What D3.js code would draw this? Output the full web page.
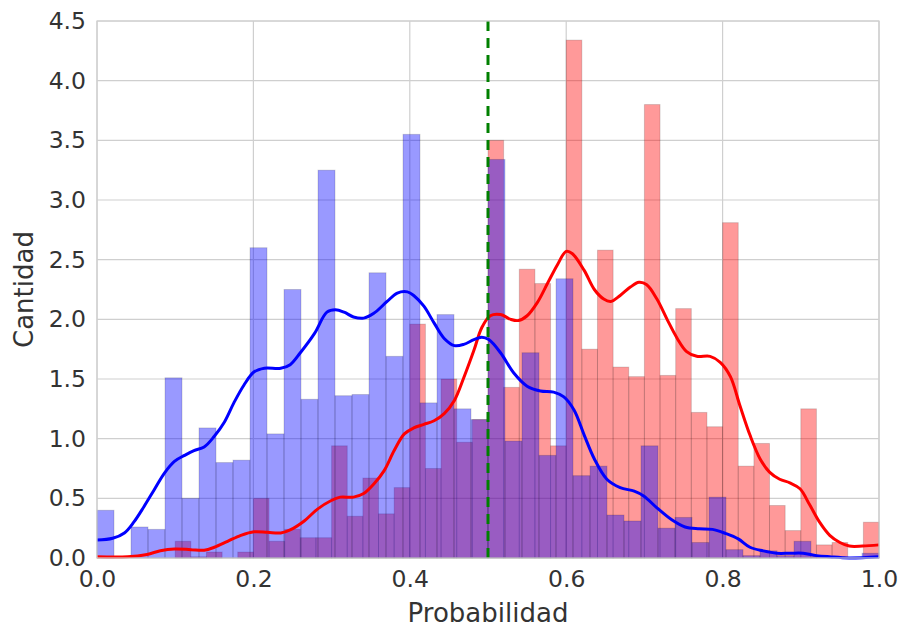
<!DOCTYPE html>
<html>
<head>
<meta charset="utf-8">
<script src="https://cdn.jsdelivr.net/npm/d3@7"></script>
<style>
  html, body { margin: 0; padding: 0; background: #fff; }
  svg { display: block; }
  text { font-family: "DejaVu Sans", sans-serif; fill: #333; }
</style>
</head>
<body>
<svg id="chart" width="899" height="628"></svg>
<script>
// Histogram densities (blue: 46 equal bins on [0,1], red: 50 equal bins on [0,1])
const blueBins = [0.40, 0.00, 0.26, 0.24, 1.51, 0.50, 1.09, 0.80, 0.82, 2.60,
                  1.04, 2.25, 1.33, 3.25, 1.36, 1.37, 2.39, 1.69, 3.55, 1.30,
                  2.04, 1.25, 1.16, 3.34, 0.98, 1.72, 0.86, 2.34, 0.69, 0.77,
                  0.36, 0.31, 0.94, 0.25, 0.34, 0.13, 0.51, 0.07, 0.02, 0.06,
                  0.02, 0.14, 0.01, 0.01, 0.00, 0.04];
const redBins = [0.00, 0.00, 0.00, 0.00, 0.00, 0.14, 0.01, 0.05, 0.00, 0.05,
                 0.50, 0.14, 0.24, 0.17, 0.17, 0.94, 0.35, 0.67, 0.37, 0.59,
                 1.96, 0.75, 1.50, 0.97, 1.16, 3.50, 1.43, 2.42, 2.30, 0.94,
                 4.34, 1.75, 2.58, 1.60, 1.52, 3.80, 1.53, 2.09, 1.22, 1.10,
                 2.81, 0.77, 0.96, 0.44, 0.23, 1.25, 0.11, 0.13, 0.00, 0.30];

// Kernel density estimates, sampled along x
const blueKdeX = [0.000, 0.020, 0.035, 0.047, 0.060, 0.073, 0.086, 0.099, 0.112, 0.124,
                  0.137, 0.150, 0.163, 0.175, 0.188, 0.201, 0.214, 0.235, 0.247, 0.260,
                  0.278, 0.294, 0.305, 0.316, 0.328, 0.341, 0.354, 0.371, 0.384, 0.397,
                  0.405, 0.418, 0.431, 0.444, 0.457, 0.469, 0.482, 0.492, 0.501, 0.516,
                  0.533, 0.550, 0.567, 0.584, 0.597, 0.610, 0.623, 0.636, 0.652, 0.669,
                  0.687, 0.699, 0.716, 0.735, 0.752, 0.770, 0.787, 0.804, 0.820, 0.835,
                  0.852, 0.869, 0.886, 0.903, 0.920, 0.937, 0.962, 1.000];
const blueKdeY = [0.15, 0.165, 0.21, 0.30, 0.43, 0.57, 0.71, 0.81, 0.86, 0.90,
                  0.93, 1.02, 1.14, 1.30, 1.45, 1.56, 1.59, 1.59, 1.62, 1.72,
                  1.88, 2.06, 2.08, 2.06, 2.02, 2.01, 2.05, 2.15, 2.22, 2.23,
                  2.20, 2.11, 1.97, 1.84, 1.78, 1.79, 1.83, 1.85, 1.83, 1.72,
                  1.55, 1.44, 1.40, 1.39, 1.35, 1.24, 1.03, 0.83, 0.66, 0.59,
                  0.56, 0.52, 0.42, 0.32, 0.26, 0.245, 0.24, 0.205, 0.16, 0.09,
                  0.06, 0.04, 0.04, 0.04, 0.02, 0.01, 0.00, 0.01];
const redKdeX = [0.000, 0.039, 0.064, 0.081, 0.099, 0.120, 0.137, 0.150, 0.167, 0.184,
                 0.201, 0.218, 0.235, 0.247, 0.265, 0.282, 0.299, 0.311, 0.328, 0.341,
                 0.354, 0.367, 0.380, 0.393, 0.405, 0.418, 0.431, 0.444, 0.457, 0.469,
                 0.482, 0.492, 0.503, 0.516, 0.529, 0.539, 0.550, 0.563, 0.576, 0.589,
                 0.600, 0.608, 0.623, 0.636, 0.648, 0.657, 0.669, 0.682, 0.693, 0.703,
                 0.716, 0.729, 0.742, 0.754, 0.767, 0.784, 0.797, 0.810, 0.822, 0.835,
                 0.848, 0.860, 0.873, 0.886, 0.899, 0.911, 0.924, 0.937, 0.950, 0.962,
                 0.979, 1.000];
const redKdeY = [0.01, 0.01, 0.03, 0.06, 0.075, 0.07, 0.065, 0.09, 0.14, 0.19,
                 0.22, 0.215, 0.21, 0.235, 0.31, 0.41, 0.48, 0.51, 0.51, 0.54,
                 0.62, 0.73, 0.90, 1.04, 1.09, 1.12, 1.15, 1.21, 1.32, 1.51,
                 1.74, 1.93, 2.03, 2.04, 2.00, 1.99, 2.03, 2.14, 2.30, 2.46,
                 2.57, 2.55, 2.41, 2.25, 2.17, 2.15, 2.20, 2.27, 2.31, 2.29,
                 2.17, 2.00, 1.84, 1.73, 1.69, 1.69, 1.64, 1.52, 1.28, 1.03,
                 0.83, 0.72, 0.66, 0.63, 0.58, 0.45, 0.30, 0.19, 0.13, 0.10,
                 0.10, 0.11];

const threshold = 0.5;
const xTicks = [0.0, 0.2, 0.4, 0.6, 0.8, 1.0];
const yTicks = [0.0, 0.5, 1.0, 1.5, 2.0, 2.5, 3.0, 3.5, 4.0, 4.5];
const xLabel = "Probabilidad";
const yLabel = "Cantidad";

const margin = { left: 97, right: 20, top: 21, bottom: 70 };
const W = 899, H = 628;
const svg = d3.select("#chart");

const x = d3.scaleLinear().domain([0, 1]).range([margin.left, W - margin.right]);
const y = d3.scaleLinear().domain([0, 4.5]).range([H - margin.bottom, margin.top]);

// grid
const grid = svg.append("g");
grid.selectAll("line.gx").data(xTicks).join("line")
  .attr("x1", d => x(d)).attr("x2", d => x(d))
  .attr("y1", y(0)).attr("y2", y(4.5))
  .attr("stroke", "#cfcfcf").attr("stroke-width", 1.2);
grid.selectAll("line.gy").data(yTicks).join("line")
  .attr("x1", x(0)).attr("x2", x(1))
  .attr("y1", d => y(d)).attr("y2", d => y(d))
  .attr("stroke", "#cfcfcf").attr("stroke-width", 1.2);

function drawHist(values, color) {
  const n = values.length;
  const bins = values.map((v, i) => ({ x0: i / n, x1: (i + 1) / n, v }));
  svg.append("g").selectAll("rect").data(bins.filter(b => b.v > 0)).join("rect")
    .attr("x", d => x(d.x0))
    .attr("width", d => x(d.x1) - x(d.x0))
    .attr("y", d => y(d.v))
    .attr("height", d => y(0) - y(d.v))
    .attr("fill", color).attr("fill-opacity", 0.4)
    .attr("stroke", "#000").attr("stroke-opacity", 0.15).attr("stroke-width", 1);
}
drawHist(redBins, "#ff0000");
drawHist(blueBins, "#0000ff");

function drawKde(xs, ys, color) {
  const pts = xs.map((d, i) => [d, ys[i]]);
  const line = d3.line().x(d => x(d[0])).y(d => y(d[1])).curve(d3.curveCatmullRom.alpha(0.5));
  svg.append("path").datum(pts).attr("d", line)
    .attr("fill", "none").attr("stroke", color).attr("stroke-width", 3)
    .attr("stroke-linejoin", "round");
}
drawKde(redKdeX, redKdeY, "#ff0000");
drawKde(blueKdeX, blueKdeY, "#0000ff");

// decision threshold
svg.append("line")
  .attr("x1", x(threshold)).attr("x2", x(threshold))
  .attr("y1", y(4.5)).attr("y2", y(0))
  .attr("stroke", "#008000").attr("stroke-width", 3)
  .attr("stroke-dasharray", "10,7");

// frame
svg.append("rect")
  .attr("x", x(0)).attr("y", y(4.5))
  .attr("width", x(1) - x(0)).attr("height", y(0) - y(4.5))
  .attr("fill", "none").attr("stroke", "#cfcfcf").attr("stroke-width", 1.2);

// axes
const xAxis = d3.axisBottom(x).tickValues(xTicks).tickFormat(d3.format(".1f")).tickSize(0).tickPadding(12);
const gx = svg.append("g").attr("transform", `translate(0,${y(0)})`).call(xAxis);
const yAxis = d3.axisLeft(y).tickValues(yTicks).tickFormat(d3.format(".1f")).tickSize(0).tickPadding(11);
const gy = svg.append("g").attr("transform", `translate(${x(0)},0)`).call(yAxis);
[gx, gy].forEach(g => {
  g.select(".domain").remove();
  g.selectAll("text").style("font-family", "'DejaVu Sans', sans-serif")
    .style("font-size", "23.5px").attr("fill", "#333");
});

svg.append("text").attr("x", (x(0) + x(1)) / 2).attr("y", 622)
  .attr("text-anchor", "middle").style("font-size", "26px").text(xLabel);
svg.append("text").attr("transform", `translate(33,${(y(0) + y(4.5)) / 2}) rotate(-90)`)
  .attr("text-anchor", "middle").style("font-size", "26px").text(yLabel);
</script>
</body>
</html>
